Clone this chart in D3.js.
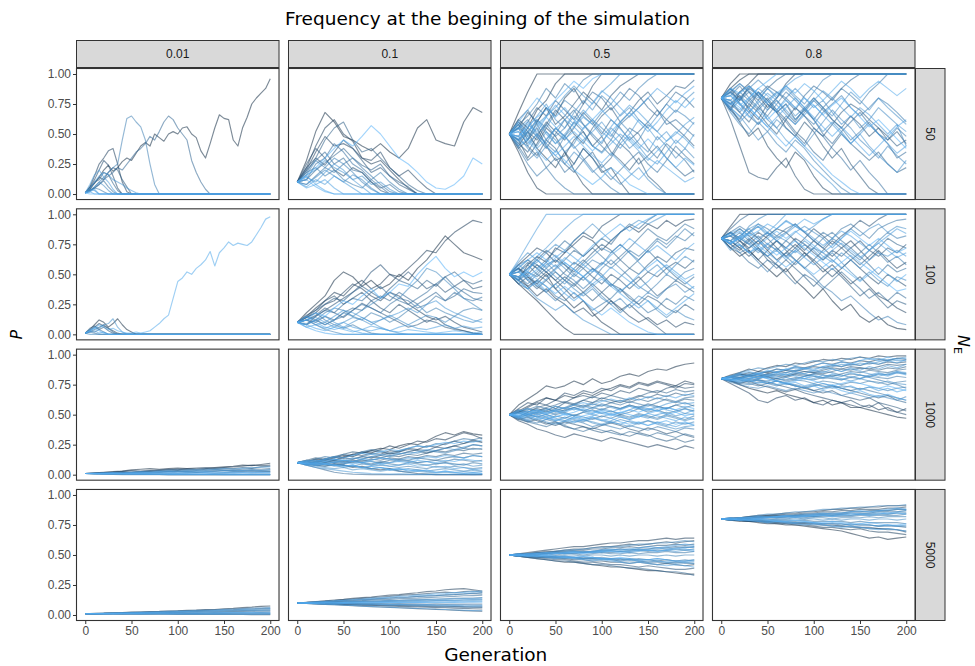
<!DOCTYPE html>
<html>
<head>
<meta charset="utf-8">
<script src="https://cdn.jsdelivr.net/npm/d3@7"></script>
<style>
  body { margin: 0; background: #fff; }
  svg { display: block; }
</style>
</head>
<body>
<svg id="chart" width="975" height="666"></svg>
<script>
// Facet labels and axis ticks
const startFreqs = ["0.01", "0.1", "0.5", "0.8"];
const popSizes = ["50", "100", "1000", "5000"];
const genTicks = [0, 50, 100, 150, 200];
const pTicks = [0, 0.25, 0.5, 0.75, 1];

// Allele frequency (in %) of each replicate, sampled every few generations.
// A token "vxk" stands for the value v repeated k times (lost / fixed alleles).
const freq001_ne50 = [
  "1 4 9 14 20 24 19 22 27 30 28 34 40 43 40 50 47 44 50 52 50 55 56 50 47 36 30 42 55 66 63 62 45 40 55 64 75 80 84 88 96",
  "1 6 15 25 30 36 38 25 10 2 0x31",
  "1 5 12 20 28 24 15 5 0x33",
  "1 6 9 14 12 18 22 20 12 6 0x31",
  "1 4 10 12 18 16 9 3 0x33",
  "1 3 5 8 12 15 18 22 20 25 30 35 38 42 48 45 52 60 65 62 55 50 45 28 18 10 4 0x14",
  "1 2 5 8 11 6 2 0x34",
  "1 3 5 4 2 0x36",
  "1 3 6 10 14 18 22 25 45 63 65 60 56 45 25 8 0x25",
  "1 3 6 10 7 3 0x35",
  "1 4 3 0x38",
  "1 5 10 15 18 16 12 10 8 5 3 1 0x29",
  "1 8 16 20 14 10 4 0x34",
  "1 2 0x39",
  "1 2 4 0x38",
  "1 0x40"
];
const freq01_ne50 = [
  "10 28 52 68 60 48 45 40 36 42 35 30 38 55 62 45 42 40 60 72 68",
  "10 22 40 55 62 50 44 30 25 28 20 12 5 0x8",
  "10 20 35 48 40 42 38 30 28 35 22 15 20 12 5 0x6",
  "10 25 38 30 20 15 22 18 10 3 0x11",
  "10 22 30 24 35 45 38 28 18 22 15 8 4 0x8",
  "10 18 30 45 55 60 45 35 38 30 22 15 8 3 0x7",
  "10 12 20 26 32 38 30 24 20 25 15 10 6 0x8",
  "10 20 28 35 25 30 20 18 10 5 8 2 0x9",
  "10 12 25 30 42 35 25 20 12 6 0x11",
  "10 8 15 22 18 25 30 22 15 8 2 0x10",
  "10 18 22 15 20 12 8 5 12 18 10 4 0x9",
  "10 16 28 22 30 25 18 10 4 0x12",
  "10 8 14 20 15 10 16 12 5 0x12",
  "10 16 20 28 22 18 12 15 8 10 4 0x10",
  "10 14 10 18 25 20 12 6 0x13",
  "10 6 12 8 15 10 5 0x14",
  "10 15 8 12 5 0x16",
  "10 5 8 3 0x17",
  "10 12 6 2 0x17",
  "10 15 22 30 38 45 40 48 57 50 40 30 25 18 10 5 4 8 15 30 25"
];
const freq05_ne50 = [
  "50 68 85 100x18",
  "50 35 18 5 0x17",
  "50 62 55 70 78 92 100x15",
  "50 40 52 38 30 22 35 20 8 0x12",
  "50 58 45 60 72 65 80 88 75 90 100x11",
  "50 45 30 42 55 48 35 25 38 30 18 22 10 0x8",
  "50 55 68 60 72 58 65 75 85 78 70 82 90 95 100x7",
  "50 38 45 55 40 28 32 45 52 40 48 35 28 20 30 15 8 0x4",
  "50 60 52 45 58 70 62 50 42 55 65 72 60 68 78 85 75 82 90 88 95",
  "50 42 35 48 60 52 45 55 68 60 50 62 55 45 52 60 70 62 55 48 40",
  "50 55 40 32 45 38 25 18 28 35 22 30 42 35 25 32 40 30 22 15 20",
  "50 48 60 72 65 78 70 62 75 85 80 70 78 88 82 72 65 75 85 80 72",
  "50 45 55 48 38 50 62 70 58 48 40 32 45 55 50 38 30 42 35 28 18",
  "50 62 70 58 45 55 48 60 52 40 35 45 58 65 72 80 70 58 62 55 48",
  "50 40 28 35 22 30 18 25 38 30 20 12 20 28 35 25 18 28 40 32 25",
  "50 58 65 75 88 80 92 85 95 100x12",
  "50 38 25 15 22 12 5 0x14",
  "50 55 62 50 42 35 48 40 30 20 12 5 0x9",
  "50 45 52 62 55 68 78 72 65 58 68 75 85 78 88 95 100x5",
  "50 52 42 50 58 48 55 65 58 50 42 55 48 38 45 58 52 62 70 65 58",
  "50 60 48 40 52 45 35 42 55 62 55 48 60 52 42 35 48 40 30 38 30",
  "50 42 55 65 75 62 55 68 78 70 82 75 65 72 62 55 65 75 68 78 85",
  "50 48 38 30 40 32 25 35 28 18 25 15 8 15 22 12 5 0x4",
  "50 55 48 58 65 72 82 90 82 75 85 92 100x9",
  "50 45 40 50 42 55 48 38 45 52 60 50 42 50 62 55 45 52 42 50 60",
  "50 58 50 62 52 42 50 60 70 62 52 45 38 48 40 30 25 35 45 38 50",
  "50 44 52 60 50 42 48 56 64 58 48 56 66 74 68 60 52 44 50 58 64",
  "50 56 46 38 46 54 62 56 48 40 34 42 50 44 36 28 36 44 52 46 38",
  "50 46 58 52 64 74 66 58 66 76 86 80 72 64 72 80 88 82 76 84 90",
  "50 54 60 48 40 32 40 48 40 32 26 34 26 18 12 20 28 22 16 10 14",
  "50 40 46 56 64 56 46 52 44 36 44 52 60 68 60 52 60 70 78 72 80",
  "50 60 70 80 72 64 72 62 54 62 70 62 54 46 38 46 38 30 22 30 24",
  "50 52 44 36 28 36 28 20 14 8 14 22 16 8 4 0x6",
  "50 48 56 64 70 78 86 94 88 96 100x11"
];
const freq08_ne50 = [
  "80 92 100x19",
  "80 88 95 100x18",
  "80 70 85 92 100x17",
  "80 72 60 48 55 40 30 22 35 28 15 5 0x9",
  "80 62 40 18 14 12 22 30 15 4 0x11",
  "80 85 78 90 82 72 80 92 100x13",
  "80 75 82 70 62 75 68 55 48 60 52 40 30 38 25 15 5 0x4",
  "80 88 80 72 85 78 68 75 62 70 80 72 62 55 65 58 48 55 45 52 42",
  "80 70 62 75 68 58 50 62 72 65 55 48 58 68 75 70 62 55 48 40 45",
  "80 85 92 85 78 88 95 100x14",
  "80 78 68 60 72 80 70 62 52 45 35 28 40 50 42 35 28 35 25 18 22",
  "80 72 80 88 82 90 85 78 70 82 90 85 78 88 95 100x6",
  "80 88 75 65 58 70 78 68 60 72 62 50 42 52 60 68 58 50 42 30 35",
  "80 75 68 78 85 75 68 60 50 42 55 48 38 30 20 28 18 10 0x3",
  "80 82 90 80 72 65 75 85 78 70 62 72 80 88 82 75 85 92 100x3",
  "80 70 78 85 75 62 55 65 58 68 78 70 62 55 45 52 60 50 45 55 48",
  "80 78 85 78 70 78 85 80 72 65 58 68 75 82 72 65 72 80 75 68 60",
  "80 68 58 50 60 52 42 35 45 38 28 20 12 5 0x7",
  "80 85 78 88 95 88 80 90 82 75 85 95 100x9",
  "80 72 65 55 45 52 62 55 48 40 50 60 70 62 55 45 38 30 40 32 25",
  "80 88 82 75 85 78 70 80 88 80 72 78 68 58 65 55 62 72 65 58 40",
  "80 75 85 90 82 75 68 75 65 72 80 72 65 75 85 78 70 80 72 65 58",
  "80 70 60 68 78 70 80 88 80 72 62 52 60 52 42 50 40 32 25 18 28",
  "80 82 75 68 58 65 55 45 38 30 22 15 8 0x8",
  "80 84 76 68 76 84 78 70 62 70 78 86 80 72 64 72 66 58 50 58 52",
  "80 76 70 80 88 82 74 66 58 66 74 66 58 50 42 50 58 50 42 34 40",
  "80 86 92 86 80 88 82 90 96 100x12",
  "80 74 80 72 64 56 64 72 80 72 64 56 48 56 48 40 32 40 48 56 62",
  "80 88 84 90 84 76 84 90 84 92 86 78 86 94 88 80 88 94 88 82 88",
  "80 72 64 72 64 56 48 40 48 40 32 24 16 10 4 0x6",
  "80 82 74 80 88 94 100x15",
  "80 78 72 64 70 62 70 78 72 80 74 66 74 80 72 64 56 62 54 46 38"
];
const freq001_ne100 = [
  "1 4 8 12 10 6 9 13 8 4 2 0x30",
  "1 3 6 9 7 5 3 1 0x33",
  "1 5 7 4 6 3 1 0x34",
  "1 2 4 6 8 5 2 0x34",
  "1 3 2 4 2 0x36",
  "1 2 1 0x38",
  "1 0x40",
  "1 4 6 5 8 9 13 6 2 0x32",
  "1 2 3 1 2 0x36",
  "1 3 5 8 6 4 5 3 2 1 1 2 1 2 3 6 9 13 16 30 44 47 52 50 55 58 62 69 57 68 72 77 74 76 75 74 77 83 89 96 98",
  "1 3 5 3 1 0x36"
];
const freq01_ne100 = [
  "10 18 25 32 45 52 48 40 45 38 42 50 45 55 62 72 82 75 68 65 62",
  "10 15 22 28 35 32 40 45 38 42 50 48 55 62 70 68 78 85 90 95 93",
  "10 14 18 25 28 35 42 38 32 28 35 32 25 20 15 12 15 10 6 4 2",
  "10 16 20 28 32 25 30 35 28 22 18 25 20 15 10 14 8 5 3 1 0x1",
  "10 8 15 20 25 30 35 42 52 58 50 45 52 45 38 42 35 40 45 38 40",
  "10 12 16 22 18 14 20 26 22 18 14 10 6 8 12 10 6 4 3 1 0x1",
  "10 14 20 25 30 28 35 40 35 30 38 45 42 38 45 40 48 52 45 42 45",
  "10 12 10 15 12 18 22 20 28 32 28 35 30 25 30 35 28 32 38 35 34",
  "10 12 15 20 18 25 30 28 35 40 32 28 25 30 35 42 48 40 35 30 28",
  "10 15 12 8 12 15 20 25 22 18 25 30 28 22 25 32 28 35 30 28 31",
  "10 14 18 12 8 5 8 4 1 0x12",
  "10 8 12 18 22 20 15 12 18 15 10 14 20 25 18 22 18 15 20 22 20",
  "10 12 8 4 2 0x16",
  "10 9 12 8 12 18 15 20 25 30 35 30 38 45 55 52 45 38 30 25 20",
  "10 12 8 10 6 10 14 12 8 12 16 12 8 12 16 14 10 15 12 10 13",
  "10 8 12 15 10 6 10 14 10 6 3 1 0x9",
  "10 12 14 10 15 20 18 14 10 12 15 18 22 18 25 28 22 18 15 12 10",
  "10 6 8 5 8 10 6 4 7 5 3 6 8 5 4 6 8 5 7 5 6",
  "10 15 10 6 4 6 3 1 0x13",
  "10 8 5 3 6 4 2 4 3 5 3 2 4 3 2 1 2 3 2 1 2",
  "10 6 3 1 0x17",
  "10 12 18 15 22 28 25 32 38 30 35 42 40 50 58 65 55 48 52 48 52"
];
const freq05_ne100 = [
  "50 42 35 28 20 12 5 0x14",
  "50 55 48 42 50 38 30 22 28 18 10 5 0x9",
  "50 58 65 72 68 60 68 75 82 78 70 78 85 90 85 92 88 95 90 95 96",
  "50 45 40 32 38 30 25 18 22 15 20 28 22 15 10 14 8 12 6 10 8",
  "50 45 58 65 60 72 68 78 85 80 90 95 100x9",
  "50 48 40 45 52 45 38 30 35 42 35 28 20 25 18 12 6 0x4",
  "50 55 50 58 52 45 52 60 55 48 42 50 45 38 45 52 48 55 60 55 62",
  "50 42 48 40 35 42 48 42 35 28 35 42 38 30 25 32 28 22 18 25 20",
  "50 48 55 62 70 65 58 52 60 68 75 70 62 55 50 58 65 60 68 72 70",
  "50 55 45 38 45 52 45 40 48 55 50 42 35 42 48 40 32 38 45 40 35",
  "50 52 60 55 48 55 62 70 65 72 80 75 85 92 88 95 100x5",
  "50 52 58 50 45 38 45 55 62 55 48 40 48 55 62 70 62 55 48 42 48",
  "50 58 62 55 62 70 78 72 65 72 65 58 65 72 80 88 82 78 85 92 88",
  "50 42 38 45 40 32 28 35 28 20 25 30 38 32 25 18 22 30 25 32 28",
  "50 45 52 48 55 62 58 50 45 52 60 55 62 70 65 72 80 75 82 78 85",
  "50 55 62 58 52 58 50 45 38 45 55 62 55 48 40 35 42 50 45 52 55",
  "50 48 42 50 58 62 55 48 55 62 58 68 75 68 62 70 78 72 80 88 82",
  "50 45 50 42 35 28 35 42 48 40 32 25 30 22 28 35 30 38 42 35 40",
  "50 52 45 52 60 52 45 38 32 38 30 25 18 25 32 28 20 14 20 15 12",
  "50 60 68 62 55 48 42 50 58 65 72 68 75 68 60 52 58 50 58 65 60",
  "50 47 55 60 68 75 70 78 85 92 85 78 85 90 95 92 96 100x4",
  "50 45 38 30 25 20 25 18 12 8 4 0x10",
  "50 58 52 65 72 80 88 95 100x13",
  "50 62 75 88 100x17",
  "50 54 46 40 46 54 60 54 48 42 48 56 50 44 38 44 52 58 52 46 50",
  "50 46 54 62 56 64 70 64 58 52 58 66 72 80 74 68 74 68 62 70 76",
  "50 44 38 44 36 42 34 28 34 40 46 40 34 28 22 28 22 16 22 28 34",
  "50 56 62 68 62 56 64 58 66 74 80 86 92 86 92 96 100x5",
  "50 52 48 54 60 66 60 54 48 54 48 42 36 42 50 56 62 56 50 44 38",
  "50 48 52 46 40 34 40 34 28 22 16 22 16 10 6 2 0x5"
];
const freq08_ne100 = [
  "80 72 65 70 62 55 48 55 45 38 30 38 28 20 25 15 10 15 8 5 4",
  "80 90 100x19",
  "80 85 78 72 78 70 62 68 75 68 60 52 58 50 42 48 40 32 28 22 18",
  "80 82 88 82 75 82 88 85 78 70 78 72 65 72 78 70 62 70 62 55 60",
  "80 78 72 65 72 65 58 52 60 68 62 55 48 55 62 55 48 42 50 45 40",
  "80 75 70 78 85 80 72 65 72 80 88 82 75 82 88 95 90 96 100x3",
  "80 72 78 70 62 70 78 72 80 75 68 62 70 65 72 78 70 65 72 68 75",
  "80 78 72 80 72 62 55 62 55 48 40 48 55 48 40 32 38 30 22 28 25",
  "80 82 78 85 80 72 78 70 62 55 62 70 78 72 65 58 65 72 80 75 72",
  "80 88 95 100x18",
  "80 72 68 60 55 62 58 50 42 50 45 38 45 52 45 38 30 35 28 35 30",
  "80 85 80 75 82 75 70 78 72 65 72 80 85 78 72 65 58 50 58 52 55",
  "80 85 90 85 92 88 82 88 92 85 78 85 80 88 92 86 80 88 92 95 96",
  "80 78 85 78 70 65 72 65 58 65 72 68 62 55 62 68 75 68 60 65 58",
  "80 75 68 72 78 85 80 85 92 85 78 72 80 75 68 62 70 78 85 80 82",
  "80 82 75 68 60 52 60 68 62 55 48 40 35 28 32 25 18 12 15 10 8",
  "80 85 80 90 96 100x16",
  "80 78 82 88 80 85 78 72 68 75 70 62 68 60 52 45 52 45 40 48 45",
  "80 76 80 75 68 75 82 78 85 90 85 80 72 80 88 82 88 92 85 90 88",
  "80 75 80 85 90 82 88 95 90 85 90 96 100x9",
  "80 70 75 68 72 65 70 62 70 78 72 65 60 68 62 55 62 68 65 70 65",
  "80 75 82 88 92 85 92 100x14",
  "80 84 78 84 90 84 78 84 90 86 80 74 80 86 82 76 70 76 82 88 84",
  "80 76 82 76 70 76 70 64 70 64 58 64 70 76 70 64 70 76 70 64 68",
  "80 84 88 82 86 92 88 94 90 96 92 96 100x9",
  "80 78 74 68 74 68 62 56 62 56 50 56 62 56 50 44 50 56 50 44 50",
  "80 82 86 80 74 80 86 80 86 80 74 68 74 80 86 80 74 80 74 68 72",
  "80 76 80 84 78 72 66 72 78 72 66 60 54 60 66 60 54 48 42 36 38"
];
const freq001_ne1000 = [
  "1 1.5 2 2.5 3 4 4.5 5 4.5 5 5.5 5 4.5 5 6 6.5 7 8 7.5 8.5 9.5",
  "1 1.2 1.8 2.2 2.8 3.5 3 3.5 4 4.5 4 5 5.5 6 5.5 6 6.5 7 8 7.5 8",
  "1 0.8 0.5 0.4 0.6 0.3 0.2 0.4 0.2 0.1 0x11",
  "1 1.3 1.5 2 2.5 2 2.5 3 3.5 3 3.5 4 3.5 4.5 5 5.5 5 6 5.5 6.5 7",
  "1 0.8 1.2 1.5 1.2 1.8 2 2.5 2.2 2.8 3 2.5 3 3.5 4 3.5 4 4.5 5 4.5 5",
  "1 1.2 1.5 1.2 1.8 2.2 2.5 3 3.5 4 4.5 4 4.5 5 4.5 4 3.5 3 3.5 3 2.5",
  "1 1.2 1 1.5 2 1.8 2.2 2 2.5 3 2.8 2.5 2 2.5 3 3.5 3 3.5 4 3.5 4",
  "1 0.8 0.6 0.3 0.1 0x16",
  "1 0.8 1 1.2 1 1.5 1.2 1.5 1.8 1.5 2 2.2 1.8 2.2 2.5 2 2.5 3 2.5 2.8 3",
  "1 1 0.8 1 1.2 0.8 1 1.2 1.5 1.2 1 1.5 1.8 1.5 1.2 1.5 2 1.8 2.2 2 2.2",
  "1 0.8 0.6 0.5 0.8 0.6 0.4 0.2 0.3 0.1 0.2 0x10",
  "1 0.8 0.6 0.8 0.5 0.8 0.6 0.4 0.6 0.8 0.6 1 0.8 0.6 1 1.2 1 0.8 1 1.2 1",
  "1 1.2 1.5 1.8 1.5 2 2.4 2.2 2.8 3.2 3 3.6 4 3.8 4.4 5 4.6 5.2 5.8 6.2 6.5",
  "1 0.9 1.1 1.4 1.2 1.6 1.9 1.7 2.1 2.4 2.2 2.6 2.9 2.7 3.1 3.4 3.2 3.6 3.9 3.7 4.1",
  "1 1.1 0.9 1.2 1 1.3 1.1 1.4 1.2 1.5 1.3 1.6 1.4 1.7 1.5 1.8 1.6 1.9 1.7 2 1.8",
  "1 0.9 0.7 0.8 0.6 0.5 0.6 0.4 0.5 0.3 0.4 0.3 0.2 0.3 0.2 0.1 0.2 0.1 0x3"
];
const freq01_ne1000 = [
  "10 11 13 12 14 16 15 18 20 22 21 24 26 25 28 32 35 33 36 34 33",
  "10 12 11 13 15 14 17 19 18 21 24 22 25 28 27 30 29 32 35 33 30",
  "10 9 8 7 9 8 6 7 5 4 5 3 2 1 0.5 0x6",
  "10 9 11 13 12 15 17 16 18 17 20 19 22 21 24 23 26 28 26 29 27",
  "10 11 12 10 12 14 13 15 14 16 18 17 19 21 20 23 22 24 22 25 24",
  "10 12 14 13 15 17 19 18 20 19 17 19 21 20 18 20 22 24 26 28 27",
  "10 9 10 11 10 12 11 13 15 14 16 15 17 16 18 20 19 21 20 22 21",
  "10 11 10 12 11 10 12 11 13 12 14 13 15 14 16 15 17 16 18 17 18",
  "10 8 6 4 2 1 0.5 0.2 0x13",
  "10 10 9 10 12 11 10 12 11 10 12 13 12 14 13 12 14 15 14 16 15",
  "10 9 8 9 10 9 11 10 9 11 10 12 11 10 11 12 11 13 12 11 12",
  "10 11 13 15 14 17 16 19 21 20 18 20 22 24 23 26 25 28 30 29 31",
  "10 9 10 8 9 8 7 9 8 10 9 8 10 9 8 9 10 9 8 10 9",
  "10 9 8 9 7 8 7 6 7 8 7 6 7 6 5 7 6 7 6 5 6",
  "10 10 11 13 12 11 13 15 17 16 15 17 19 18 20 19 18 20 22 21 22",
  "10 9 8 7 8 6 7 6 5 6 5 4 5 4 3 4 5 4 3 4 3",
  "10 11 9 10 8 9 11 10 12 14 13 11 12 10 11 9 10 8 9 7 8",
  "10 8 7 6 5 6 4 5 4 3 4 3 2 3 2 1.5 2 1.5 1 1.5 1",
  "10 9 10 9 8 7 8 6 5 6 4 5 3 4 3 2 3 2 2.5 2 2.5",
  "10 8 6 5 4 3 2 1.5 1 0.8 0.5 0.8 0.5 0.3 0.5 0.3 0.2 0.3 0.2 0.1 0.2",
  "10 11 10 12 13 12 14 13 15 17 16 18 17 19 21 20 22 21 23 25 24",
  "10 9 10 9 11 10 9 10 8 9 7 8 9 7 8 6 7 5 6 4 5",
  "10 11 12 11 13 12 11 13 12 14 13 12 14 13 15 14 16 15 14 16 15",
  "10 10 9 11 10 12 11 10 11 9 10 11 10 12 11 10 12 11 13 12 11",
  "10 12 11 13 15 14 16 18 17 19 21 20 22 24 23 25 27 26 28 27 29",
  "10 9 8 9 8 7 8 6 7 6 4 5 4 3 4 2 3 2 1 1.5 1"
];
const freq05_ne1000 = [
  "50 58 63 68 74 72 74 78 75 80 76 78 82 84 82 86 88 87 90 92 93",
  "50 53 57 61 64 62 66 64 68 66 70 72 75 73 77 75 78 76 74 78 76",
  "50 45 42 38 36 33 31 34 32 30 28 31 29 27 25 23 25 23 21 24 22",
  "50 55 60 58 64 62 68 66 70 68 72 70 74 72 76 74 77 75 72 76 75",
  "50 52 56 60 58 62 60 64 66 64 68 66 70 68 72 70 68 72 74 72 73",
  "50 47 44 46 43 41 44 42 40 38 41 43 41 38 36 39 37 34 36 33 31",
  "50 54 52 56 58 55 60 58 62 60 64 62 60 63 66 64 67 65 68 66 68",
  "50 46 48 45 42 44 40 38 40 37 35 37 34 32 35 33 30 28 30 27 29",
  "50 48 52 55 53 57 55 58 56 59 57 60 62 60 63 61 64 62 60 63 62",
  "50 52 55 53 56 58 61 59 62 65 63 66 64 62 65 68 70 68 71 69 70",
  "50 53 50 52 55 52 54 56 53 56 54 57 55 58 56 59 57 55 58 56 58",
  "50 46 44 42 40 43 41 38 36 39 37 35 33 36 34 32 35 33 31 34 32",
  "50 52 48 51 53 50 52 49 52 54 51 53 50 52 55 52 54 51 53 55 53",
  "50 52 54 57 55 53 56 59 57 60 62 60 58 61 59 57 60 63 61 64 65",
  "50 47 50 48 46 49 47 50 48 46 49 47 50 48 51 49 47 50 48 46 49",
  "50 47 45 43 46 44 42 45 43 40 42 40 38 41 39 37 40 38 36 39 38",
  "50 49 51 54 52 55 53 56 58 56 59 57 55 58 56 54 57 55 58 60 57",
  "50 48 46 49 47 45 48 46 44 47 45 43 46 44 42 45 43 41 44 42 44",
  "50 51 49 52 50 53 51 49 52 50 48 51 49 47 50 48 46 49 47 45 47",
  "50 54 51 48 50 47 45 48 46 43 41 44 42 40 43 45 42 40 38 40 41",
  "50 48 45 47 44 42 45 43 46 44 42 45 48 46 49 47 50 52 49 51 50",
  "50 51 53 51 48 51 53 56 54 52 55 53 51 54 57 55 53 56 54 51 54",
  "50 52 50 53 51 54 56 54 57 55 58 56 54 57 55 58 56 59 61 59 60",
  "50 49 47 50 48 46 44 47 45 48 46 44 42 45 43 41 44 42 40 43 42",
  "50 51 53 50 52 54 52 55 53 51 54 52 55 57 55 53 56 54 52 55 52",
  "50 48 50 52 50 48 51 49 47 49 52 50 48 46 48 51 49 47 45 48 46",
  "50 53 55 52 54 57 55 58 60 58 61 63 61 64 62 65 63 66 64 67 66",
  "50 47 49 46 48 45 47 44 46 48 45 47 44 42 44 41 43 45 42 44 41",
  "50 50 52 54 51 53 50 52 55 53 51 49 52 50 48 51 53 50 52 49 51",
  "50 49 51 48 46 48 50 47 49 51 53 50 52 54 52 55 53 56 54 57 55"
];
const freq08_ne1000 = [
  "80 78 75 72 70 68 70 67 65 63 60 62 58 60 56 56 54 52 50 48 47",
  "80 83 85 88 86 89 91 90 93 92 94 96 95 97 96 98 97 99 98 99 99",
  "80 76 72 68 62 60 64 66 62 64 60 58 62 60 58 56 58 54 56 52 55",
  "80 82 84 83 86 85 88 87 90 89 91 93 92 94 93 95 94 96 95 97 96",
  "80 78 76 78 75 73 71 69 71 68 66 64 62 60 62 58 56 60 54 52 50",
  "80 81 83 85 84 86 85 87 86 88 90 89 91 90 92 91 93 92 94 93 94",
  "80 81 79 77 79 77 75 73 71 73 70 68 70 66 64 62 64 60 58 56 53",
  "80 82 81 83 82 84 86 85 87 86 85 87 89 88 90 89 88 90 92 91 92",
  "80 79 81 83 82 84 83 82 84 86 85 84 86 88 87 89 88 87 89 88 90",
  "80 82 84 82 80 82 78 76 74 72 70 72 74 72 70 68 66 64 66 62 60",
  "80 81 80 82 81 83 82 81 83 82 84 83 82 84 86 85 87 86 85 87 88",
  "80 79 81 80 82 81 80 82 84 83 82 81 83 82 84 83 82 84 83 85 84",
  "80 78 77 76 74 76 78 76 74 72 74 76 74 72 70 72 70 68 66 64 62",
  "80 79 78 80 79 78 80 79 81 80 79 81 80 79 81 80 82 81 80 82 81",
  "80 78 77 79 78 76 78 77 79 78 76 78 77 75 77 76 78 77 75 77 78",
  "80 82 80 82 84 82 80 78 80 82 84 86 85 83 81 83 81 79 77 75 72",
  "80 78 76 75 77 76 74 76 75 73 75 74 72 74 73 71 73 72 70 72 73",
  "80 77 75 73 72 74 72 70 72 70 68 70 68 66 68 66 64 66 64 62 65",
  "80 82 85 87 89 88 90 92 91 93 95 94 96 95 97 98 96 97 95 97 98",
  "80 79 80 78 80 82 84 83 85 84 82 80 82 80 78 80 78 76 78 76 75",
  "80 81 83 82 84 86 88 87 89 88 86 88 90 92 91 93 92 94 96 95 95",
  "80 81 82 84 83 81 83 85 87 89 88 90 88 86 88 86 84 82 84 86 85",
  "80 81 83 81 84 82 85 83 86 84 87 85 88 86 89 87 90 88 91 89 92",
  "80 79 81 79 82 80 78 81 79 82 80 83 81 79 82 80 83 85 83 86 84",
  "80 82 80 83 85 83 86 88 86 89 87 90 92 90 93 91 94 92 95 93 96",
  "80 78 80 77 79 76 78 75 77 74 76 73 75 72 74 71 73 70 72 69 71",
  "80 81 79 82 80 83 81 84 82 80 83 81 84 82 85 83 81 84 82 85 83",
  "80 79 77 79 76 78 75 77 74 72 74 71 73 70 68 70 67 65 67 64 62",
  "80 82 84 86 84 87 85 88 90 88 91 93 91 94 92 95 97 95 98 96 97",
  "80 80 78 80 82 80 78 76 78 80 78 76 74 76 78 76 74 72 74 72 70"
];
const freq001_ne5000 = [
  "1 1.3 1.5 1.9 2 2.4 2.5 2.9 3 3.3 3.5 3.9 4 4.5 4.6 5.2 5.5 6.2 6.6 7.2 7.5",
  "1 0.9 0.8 0.8 0.7 0.7 0.7 0.6 0.6 0.6 0.5 0.6 0.5 0.5 0.4 0.5 0.4 0.4 0.3 0.4 0.3",
  "1 1.2 1.3 1.6 1.8 2 2.2 2.4 2.7 2.8 3.1 3.3 3.5 3.9 4 4.3 4.5 4.9 5 5.3 5.5",
  "1 1.1 1.3 1.4 1.6 1.8 1.9 2.1 2.3 2.4 2.6 2.8 3 3.1 3.3 3.5 3.7 3.9 4 4.2 4.4",
  "1 1.1 1.2 1.3 1.4 1.5 1.7 1.7 1.9 2 2.1 2.3 2.4 2.5 2.6 2.8 2.9 3 3.2 3.3 3.4",
  "1 1 1.1 1.2 1.2 1.3 1.4 1.4 1.5 1.6 1.7 1.7 1.8 1.9 2 2.1 2.2 2.2 2.3 2.4 2.5",
  "1 1 1 1.1 1.1 1.1 1.2 1.2 1.3 1.3 1.3 1.4 1.4 1.5 1.5 1.6 1.6 1.7 1.7 1.8 1.8",
  "1 0.9 0.9 0.9 1 1 0.9 1 1 1.1 1 1.1 1.1 1 1.2 1.1 1.2 1.2 1.1 1.3 1.2",
  "1 1.2 1.4 1.7 1.9 2.2 2.4 2.7 2.9 3.2 3.4 3.6 3.9 4.1 4.4 4.7 5 5.3 5.7 6 6.4",
  "1 0.9 0.9 0.8 0.8 0.8 0.9 0.8 0.8 0.7 0.8 0.7 0.7 0.8 0.7 0.7 0.6 0.7 0.6 0.6 0.7",
  "1 1.1 1.2 1.4 1.5 1.7 1.8 2 2.1 2.3 2.4 2.6 2.7 2.9 3 3.2 3.3 3.5 3.7 3.8 4",
  "1 1 0.9 1 0.9 0.9 0.8 0.9 0.8 0.8 0.9 0.8 0.8 0.9 0.9 0.8 0.9 0.9 1 0.9 1",
  "1 1.2 1.4 1.5 1.7 1.9 2.1 2.3 2.4 2.6 2.8 3 3.3 3.5 3.7 4 4.2 4.5 4.8 5 5.3",
  "1 1.1 1.1 1.2 1.3 1.3 1.4 1.5 1.5 1.6 1.7 1.7 1.8 1.9 1.9 2 2.1 2.1 2.2 2.3 2.3"
];
const freq01_ne5000 = [
  "10 9.6 9.2 8.8 8.5 8.1 7.8 7.4 7 6.7 6.3 6 5.7 5.3 5 4.7 4.4 4 3.7 3.4 3.2",
  "10 10.5 11 11.8 12.5 13 13.8 14.5 15 15.8 16.5 17 17.8 18.5 19.5 20 21 21.5 22 21 20",
  "10 9.7 9.5 9.2 9 8.7 8.5 8.2 8 7.7 7.5 7.2 7 6.7 6.5 6.2 6 5.7 5.5 5.2 5",
  "10 10.5 11.2 11.5 12 12.8 13.2 13.8 14.5 15 15.5 16.2 16.8 17.2 17.8 18.5 19 18.5 19.5 20 19",
  "10 9.8 9.6 9.5 9.3 9.2 9 8.8 8.7 8.5 8.4 8.2 8 7.9 7.7 7.6 7.4 7.2 7 6.9 6.8",
  "10 10.3 10.8 11.2 11.5 12 12.5 13 13.2 13.8 14.2 14.8 15 15.5 16 16.2 16.8 17 17.5 18 17.5",
  "10 9.8 9.5 9.1 9.2 8.8 8.6 8.3 8.4 8 7.8 7.9 7.5 7.2 7.3 7 6.8 6.9 6.5 6.3 6.4",
  "10 10.2 10.5 10.8 11.2 11.5 11.8 12 12.5 12.8 13 13.5 13.8 14 14.5 14.8 15.2 15.5 16 16.2 16.5",
  "10 9.9 9.8 9.9 9.7 9.8 9.6 9.7 9.5 9.6 9.4 9.5 9.3 9.4 9.2 9.3 9.1 9.2 9 9.1 9",
  "10 10.2 10.3 10.6 10.8 11 11.2 11.5 11.6 11.9 12.2 12.3 12.6 12.8 13 13.3 13.5 13.8 14 14.2 14.5",
  "10 9.9 9.9 9.7 9.7 9.5 9.5 9.3 9.3 9.1 9.1 8.9 8.9 8.7 8.7 8.5 8.5 8.3 8.3 8.1 8.1",
  "10 10 10.2 10.3 10.5 10.6 10.7 10.9 11 11.2 11.3 11.5 11.6 11.8 11.9 12 12.2 12.3 12.5 12.6 12.8",
  "10 10.3 10.6 11 11.4 11.8 12.1 12.6 13 13.5 14 14.3 14.8 15.3 15.7 16.2 16.6 17.2 17.6 18.2 18.6",
  "10 10 10.1 10 10.2 10.1 10.3 10.2 10.4 10.3 10.5 10.4 10.6 10.5 10.7 10.6 10.8 10.7 11 10.9 11",
  "10 10.1 10.4 10.5 10.8 10.9 11.2 11.3 11.6 11.7 12 12.1 12.4 12.5 12.8 12.9 13.2 13.3 13.6 13.7 14",
  "10 10.2 10 10.4 10.6 10.4 10.8 11 10.8 11.2 11.4 11.2 11.6 11.8 11.6 12 12.2 12 12.4 12.6 12.4",
  "10 9.8 10 9.6 9.4 9.6 9.2 9 9.2 8.8 8.6 8.8 8.4 8.2 8.4 8 7.8 8 7.6 7.4 7.6",
  "10 10.4 10.9 11.3 11.9 12.3 12.9 13.2 13.9 14.3 14.8 15.5 15.8 16.5 16.8 17.6 17.8 18.6 18.9 19.5 19.9",
  "10 9.6 9.3 8.8 8.6 8.1 7.9 7.4 7.2 6.7 6.5 6 5.8 5.4 5.2 4.8 4.6 4.2 4 3.7 3.5",
  "10 10.1 9.9 10.2 10 10.3 10.1 10.4 10.2 10.5 10.3 10.6 10.4 10.7 10.5 10.8 10.6 10.9 10.7 11 10.8"
];
const freq05_ne5000 = [
  "50 49 48 47 46 45 44 44 43 42 41 40 40 39 38 37 37 36 35 34 34",
  "50 51 52 53 54 55 56 57 57 58 59 60 60 61 62 62 63 64 63 64 64",
  "50 49 49 48 48 47 47 46 46 45 45 44 44 43 44 43 42 43 42 41 42",
  "50 51 51 52 53 53 54 55 55 56 57 57 58 59 58 59 60 61 60 61 62",
  "50 49 48 48 47 46 46 45 44 44 43 42 42 41 40 41 40 39 38 38 39",
  "50 50 51 52 52 53 53 54 54 55 55 56 56 57 56 57 58 58 59 58 59",
  "50 49 49 49 48 49 48 48 47 48 47 47 46 47 46 46 45 46 45 45 46",
  "50 50 51 51 51 52 52 53 53 53 54 54 55 54 55 55 56 56 57 56 57",
  "50 49 48 47 46 45 45 44 43 42 42 41 40 39 39 38 37 36 36 35 33",
  "50 50 50 51 51 51 52 51 52 52 53 52 53 53 54 53 54 54 55 54 55",
  "50 50 49 49 48 48 48 47 47 47 46 46 45 45 45 44 44 43 44 43 43",
  "50 50 50 50 51 50 51 51 50 51 52 51 51 52 51 52 52 53 52 52 53",
  "50 49 50 49 49 48 49 48 48 47 48 47 47 46 47 46 47 46 45 46 45",
  "50 50 49 50 50 49 50 50 49 50 50 49 50 49 50 50 49 50 49 50 50",
  "50 51 51 52 52 53 54 54 55 56 56 57 57 58 59 59 60 60 61 62 61",
  "50 49 49 48 49 48 47 48 47 46 47 46 45 46 45 44 45 44 43 44 43",
  "50 50 51 51 52 52 53 53 52 53 54 54 55 55 54 55 56 55 56 57 56",
  "50 51 50 51 51 52 51 52 52 53 52 53 53 52 53 54 53 54 53 54 53",
  "50 50 51 50 51 52 51 52 53 52 53 54 53 54 55 54 55 56 55 56 57",
  "50 50 49 50 49 48 49 48 47 48 47 46 47 46 45 46 45 44 45 44 45",
  "50 51 50 51 52 51 52 53 52 53 54 55 54 55 56 57 56 57 58 59 58",
  "50 49 50 49 48 47 48 47 46 45 46 45 44 43 44 43 42 41 42 41 40",
  "50 50 51 51 50 51 52 52 51 52 53 53 52 53 54 54 53 54 55 55 54",
  "50 50 49 49 50 49 48 48 49 48 47 47 48 47 46 46 47 46 45 45 46"
];
const freq08_ne5000 = [
  "80 79 78 78 77 76 76 75 75 74 73 72 71 70 68 66 64 65 63 64 65",
  "80 81 81 82 83 83 84 85 85 86 86 87 88 88 89 89 90 90 91 91 91",
  "80 79 79 78 78 77 76 76 75 75 74 73 73 72 71 72 70 69 69 68 67",
  "80 80 81 82 82 83 83 84 84 85 85 86 86 87 87 88 88 88 89 89 90",
  "80 79 79 78 78 78 77 77 76 76 76 75 75 74 74 73 73 72 72 71 69",
  "80 80 81 81 82 82 83 83 83 84 84 85 85 85 86 86 87 87 87 88 88",
  "80 79 79 78 78 77 77 76 76 76 75 75 74 74 73 73 72 72 71 71 70",
  "80 80 80 81 81 82 82 82 83 83 83 84 84 84 85 85 85 86 86 86 87",
  "80 80 79 79 79 78 78 78 77 77 77 76 76 76 75 75 75 74 74 74 73",
  "80 80 80 81 81 81 81 82 82 82 82 83 83 83 83 84 84 84 84 85 85",
  "80 80 79 80 79 79 79 79 78 79 78 78 78 78 77 78 77 77 77 77 76",
  "80 80 80 80 80 81 81 81 81 81 82 82 82 82 82 83 83 83 83 83 84",
  "80 79 79 79 78 78 78 77 77 77 76 76 76 75 76 75 75 74 75 74 74",
  "80 80 80 80 80 80 80 80 81 80 81 81 80 81 81 81 82 81 82 82 82",
  "80 81 81 82 83 84 84 85 86 86 87 88 88 89 89 90 90 91 91 91 92",
  "80 80 79 80 80 79 80 80 79 80 80 79 80 79 80 80 79 80 80 79 80",
  "80 80 81 81 82 82 82 83 83 84 84 84 85 85 86 86 86 87 87 88 88",
  "80 81 80 81 81 81 82 82 82 83 82 83 83 84 83 84 84 85 84 85 85",
  "80 80 81 80 81 82 81 82 83 82 83 84 83 84 85 84 85 86 85 86 87",
  "80 80 79 80 79 78 79 78 77 78 77 76 77 76 75 76 75 74 75 74 75",
  "80 81 80 81 82 81 82 83 82 83 84 85 84 85 86 87 86 87 88 89 88",
  "80 79 80 79 78 77 78 77 76 75 76 75 74 73 74 73 72 71 72 71 70",
  "80 80 81 81 80 81 82 82 81 82 83 83 82 83 84 84 83 84 85 85 84",
  "80 80 79 79 80 79 78 78 79 78 77 77 78 77 76 76 77 76 75 75 76"
];

// Which replicate set goes in which facet, and how often it was sampled
const panelTable = [
  { p: "0.01", ne: "50",   every: 5,  runs: freq001_ne50 },
  { p: "0.1",  ne: "50",   every: 10, runs: freq01_ne50 },
  { p: "0.5",  ne: "50",   every: 10, runs: freq05_ne50 },
  { p: "0.8",  ne: "50",   every: 10, runs: freq08_ne50 },
  { p: "0.01", ne: "100",  every: 5,  runs: freq001_ne100 },
  { p: "0.1",  ne: "100",  every: 10, runs: freq01_ne100 },
  { p: "0.5",  ne: "100",  every: 10, runs: freq05_ne100 },
  { p: "0.8",  ne: "100",  every: 10, runs: freq08_ne100 },
  { p: "0.01", ne: "1000", every: 10, runs: freq001_ne1000 },
  { p: "0.1",  ne: "1000", every: 10, runs: freq01_ne1000 },
  { p: "0.5",  ne: "1000", every: 10, runs: freq05_ne1000 },
  { p: "0.8",  ne: "1000", every: 10, runs: freq08_ne1000 },
  { p: "0.01", ne: "5000", every: 10, runs: freq001_ne5000 },
  { p: "0.1",  ne: "5000", every: 10, runs: freq01_ne5000 },
  { p: "0.5",  ne: "5000", every: 10, runs: freq05_ne5000 },
  { p: "0.8",  ne: "5000", every: 10, runs: freq08_ne5000 }
];

function expandRun(str) {
  const out = [];
  str.trim().split(/\s+/).forEach(tok => {
    if (tok.includes("x")) {
      const [v, k] = tok.split("x");
      for (let i = 0; i < +k; i++) out.push(+v);
    } else {
      out.push(+tok);
    }
  });
  return out;
}

// ---- layout ----
const W = 975, H = 666;
const frame = { left: 76, right: 915.5, top: 68, bottom: 621, stripTop: 40.5, stripW: 29.5 };
const svg = d3.select("#chart");
const axisFont = "'Liberation Sans', Arial, sans-serif";
const titleFont = "'DejaVu Sans', Verdana, sans-serif";

const colBand = d3.scaleBand().domain(startFreqs).range([frame.left, frame.right]).paddingInner(0.04);
const rowBand = d3.scaleBand().domain(popSizes).range([frame.top, frame.bottom]).paddingInner(0.059);
const pw = colBand.bandwidth(), ph = rowBand.bandwidth();

// shared (fixed) facet scales in local panel coordinates
const xLocal = d3.scaleLinear().domain([-10, 210]).range([0, pw]);
const yLocal = d3.scaleLinear().domain([-0.05, 1.05]).range([ph, 0]);
const colour = d3.interpolateLab("#132B43", "#56B1F7");

// ---- panels ----
panelTable.forEach(pt => {
  const g = svg.append("g")
    .attr("transform", `translate(${colBand(pt.p)},${rowBand(pt.ne)})`);
  g.append("rect").attr("width", pw).attr("height", ph).attr("fill", "#fff");

  const line = d3.line()
    .x(d => xLocal(d.gen))
    .y(d => yLocal(d.f / 100));
  const n = pt.runs.length;
  pt.runs.forEach((s, i) => {
    const pts = expandRun(s)
      .map((f, k) => ({ gen: k * pt.every, f }))
      .filter(d => d.gen <= 200);
    const t = n > 1 ? Math.pow(i / (n - 1), 0.7) : 0;
    g.append("path")
      .attr("d", line(pts))
      .attr("fill", "none")
      .attr("stroke", colour(t))
      .attr("stroke-opacity", 0.55)
      .attr("stroke-width", 1.15)
      .attr("stroke-linejoin", "round");
  });

  g.append("rect")
    .attr("x", 0.5).attr("y", 0.5)
    .attr("width", pw - 1).attr("height", ph - 1)
    .attr("fill", "none").attr("stroke", "#333").attr("stroke-width", 1.1);
});

// ---- column strips (initial frequency) ----
startFreqs.forEach(p => {
  const x0 = colBand(p);
  svg.append("rect")
    .attr("x", x0 + 0.5).attr("y", frame.stripTop)
    .attr("width", pw - 1).attr("height", frame.top - frame.stripTop - 0.5)
    .attr("fill", "#d9d9d9").attr("stroke", "#333").attr("stroke-width", 1);
  svg.append("text")
    .attr("x", x0 + pw / 2).attr("y", (frame.stripTop + frame.top) / 2)
    .attr("text-anchor", "middle").attr("dominant-baseline", "central")
    .attr("font-family", axisFont).attr("font-size", 12).attr("fill", "#1a1a1a")
    .text(p);
});

// ---- row strips (effective population size) ----
popSizes.forEach(ne => {
  const y0 = rowBand(ne);
  svg.append("rect")
    .attr("x", frame.right).attr("y", y0 + 0.5)
    .attr("width", frame.stripW).attr("height", ph - 1)
    .attr("fill", "#d9d9d9").attr("stroke", "#333").attr("stroke-width", 1);
  svg.append("text")
    .attr("transform", `translate(${frame.right + frame.stripW / 2},${y0 + ph / 2}) rotate(90)`)
    .attr("text-anchor", "middle").attr("dominant-baseline", "central")
    .attr("font-family", axisFont).attr("font-size", 12).attr("fill", "#1a1a1a")
    .text(ne);
});

// ---- axes ----
function styleAxis(sel) {
  sel.select(".domain").remove();
  sel.selectAll(".tick line").attr("stroke", "#333").attr("stroke-width", 1);
  sel.selectAll(".tick text").attr("fill", "#4d4d4d")
    .attr("font-family", axisFont).attr("font-size", 12);
}
popSizes.forEach(ne => {
  svg.append("g")
    .attr("transform", `translate(${frame.left},${rowBand(ne)})`)
    .call(d3.axisLeft(yLocal).tickValues(pTicks).tickFormat(d3.format(".2f")).tickSize(3).tickPadding(2))
    .call(styleAxis);
});
startFreqs.forEach(p => {
  svg.append("g")
    .attr("transform", `translate(${colBand(p)},${rowBand("5000") + ph})`)
    .call(d3.axisBottom(xLocal).tickValues(genTicks).tickSize(3).tickPadding(2))
    .call(styleAxis);
});

// ---- titles ----
svg.append("text")
  .attr("x", W / 2).attr("y", 25)
  .attr("text-anchor", "middle")
  .attr("font-family", titleFont).attr("font-size", 18.5).attr("fill", "#000")
  .text("Frequency at the begining of the simulation");

svg.append("text")
  .attr("x", (frame.left + frame.right) / 2).attr("y", 661)
  .attr("text-anchor", "middle")
  .attr("font-family", titleFont).attr("font-size", 18.5).attr("fill", "#000")
  .text("Generation");

svg.append("text")
  .attr("transform", `translate(22,${(frame.stripTop + frame.bottom) / 2 + 4}) rotate(-90)`)
  .attr("text-anchor", "middle")
  .attr("font-family", titleFont).attr("font-size", 16).attr("font-style", "italic")
  .attr("fill", "#000")
  .text("P");

const neLabel = svg.append("text")
  .attr("transform", `translate(958,${(frame.top + frame.bottom) / 2}) rotate(90)`)
  .attr("text-anchor", "middle")
  .attr("font-family", titleFont).attr("font-size", 16).attr("font-style", "italic")
  .attr("fill", "#000");
neLabel.append("tspan").text("N");
neLabel.append("tspan").attr("font-size", 11).attr("font-style", "normal").attr("dy", 4).text("E");
</script>
</body>
</html>
